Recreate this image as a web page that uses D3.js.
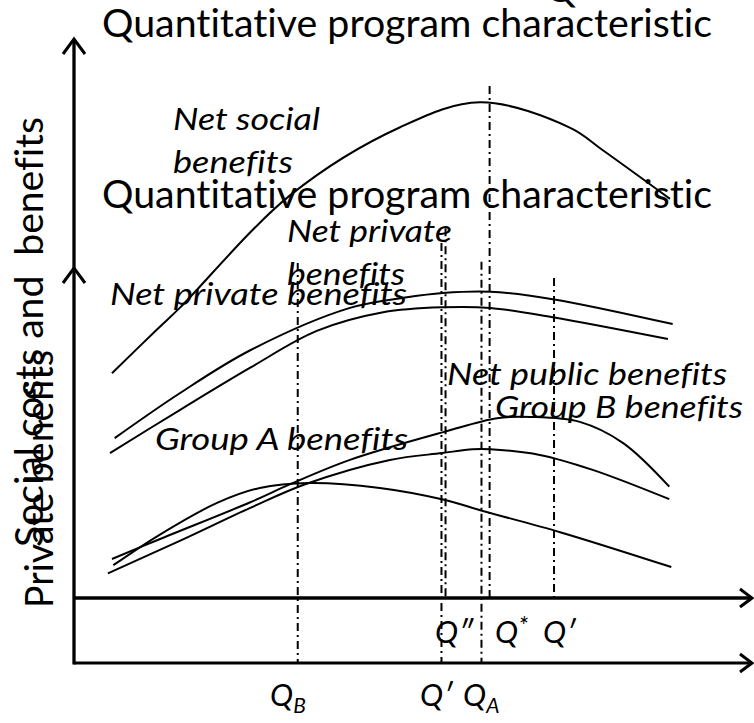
<!DOCTYPE html>
<html>
<head>
<meta charset="utf-8">
<script src="https://cdn.jsdelivr.net/npm/d3@7"></script>
<style>
  body { margin: 0; background: #fff; }
  text { font-family: Lato, "Open Sans", sans-serif; fill: #000; font-variant-ligatures: none; }
</style>
</head>
<body>
<div id="chart"></div>
<script>
// Quantity axis (q) and benefit axis (v), both on a 0-10 scale
var netSocialQ = [0.56, 1.22, 1.56, 3.19, 4.81, 5.99, 7.32, 7.80, 8.79];
var netSocialV = [4.65, 5.35, 5.70, 7.51, 8.60, 9.00, 8.59, 8.23, 7.45];

var netPrivateTopQ = [0.60, 1.56, 2.60, 4.07, 4.91, 5.44, 6.14, 7.06, 8.83];
var netPrivateTopV = [3.61, 4.33, 5.02, 5.70, 5.87, 5.94, 5.96, 5.84, 5.44];

var netPrivateLowQ = [0.53, 1.56, 2.60, 3.58, 4.56, 5.44, 6.14, 7.06, 8.76];
var netPrivateLowV = [3.37, 4.06, 4.74, 5.33, 5.63, 5.71, 5.70, 5.55, 5.20];

var groupAQ = [0.58, 1.25, 2.11, 2.74, 3.47, 4.51, 5.46, 6.03, 7.17, 8.81];
var groupAV = [1.57, 2.05, 2.57, 2.81, 2.89, 2.81, 2.62, 2.44, 2.10, 1.54];

var groupBQ = [0.56, 1.27, 2.60, 3.19, 4.07, 5.46, 6.24, 6.74, 7.46, 8.10, 8.78];
var groupBV = [1.67, 1.99, 2.58, 2.87, 3.26, 3.71, 3.93, 3.95, 3.87, 3.53, 2.83];

var netPublicQ = [0.50, 1.56, 2.60, 3.41, 4.66, 5.43, 5.88, 6.14, 6.87, 7.65, 8.78];
var netPublicV = [1.44, 1.96, 2.49, 2.87, 3.26, 3.37, 3.43, 3.43, 3.34, 3.10, 2.63];

// dash-dot reference quantities
var markerNames = ["QB", "Q' outer", "QA", "Q''", "Q*", "Q' inner"];
var markerQ = [3.30, 5.42, 6.01, 5.48, 6.13, 7.08];
var markerTop = [6.42, 6.74, 6.44, 6.98, 9.26, 6.18];
var markerAxis = ["outer", "outer", "outer", "inner", "inner", "inner"];

var titleText = "Quantitative program characteristic";
var outerYLabel = "Social costs and  benefits";
var innerYLabel = "Private benefits";

var svgWidth = 754;
var svgHeight = 723;

var svg = d3.select("#chart")
  .append("svg")
  .attr("width", svgWidth)
  .attr("height", svgHeight)
  .style("display", "block");

svg.append("rect")
  .attr("width", svgWidth)
  .attr("height", svgHeight)
  .attr("fill", "#fff");

// scales
var xScale = d3.scaleLinear().domain([0, 10]).range([74, 752]);
var yScale = d3.scaleLinear().domain([0, 10]).range([663, 40]);

var axisX = 74;
var outerBase = 663;
var innerBase = 598;

function zipSeries(qs, vs) {
  return qs.map(function(q, i) { return { q: q, v: vs[i] }; });
}

var curves = [
  zipSeries(netSocialQ, netSocialV),
  zipSeries(netPrivateTopQ, netPrivateTopV),
  zipSeries(netPrivateLowQ, netPrivateLowV),
  zipSeries(groupAQ, groupAV),
  zipSeries(groupBQ, groupBV),
  zipSeries(netPublicQ, netPublicV)
];

var line = d3.line()
  .x(d => xScale(d.q))
  .y(d => yScale(d.v))
  .curve(d3.curveCatmullRom);

// dash-dot verticals
var markers = markerNames.map(function(n, i) {
  return { name: n, q: markerQ[i], top: markerTop[i], axis: markerAxis[i] };
});

svg.append("g").selectAll("line")
  .data(markers)
  .enter()
  .append("line")
  .attr("x1", d => xScale(d.q))
  .attr("x2", d => xScale(d.q))
  .attr("y1", d => yScale(d.top))
  .attr("y2", d => d.axis == "outer" ? outerBase : innerBase)
  .attr("stroke", "#000")
  .attr("stroke-width", 2)
  .attr("stroke-dasharray", "8,4,2,4");

// curves
svg.append("g").selectAll("path")
  .data(curves)
  .enter()
  .append("path")
  .attr("d", line)
  .attr("fill", "none")
  .attr("stroke", "#000")
  .attr("stroke-width", 2);

// axes: two y axes on top of each other, two x axes
function arrowUp(tipY) {
  svg.append("polyline")
    .attr("points", `${axisX - 11},${tipY + 15} ${axisX},${tipY} ${axisX + 11},${tipY + 15}`)
    .attr("fill", "none").attr("stroke", "#000").attr("stroke-width", 3);
}
function arrowRight(y) {
  svg.append("polyline")
    .attr("points", `740,${y - 9} 752,${y} 740,${y + 9}`)
    .attr("fill", "none").attr("stroke", "#000").attr("stroke-width", 3);
}

svg.append("line")
  .attr("x1", axisX).attr("x2", axisX)
  .attr("y1", 40).attr("y2", outerBase + 1.5)
  .attr("stroke", "#000").attr("stroke-width", 3.3);
arrowUp(39);
arrowUp(268);

svg.append("line")
  .attr("x1", axisX).attr("x2", 751)
  .attr("y1", innerBase).attr("y2", innerBase)
  .attr("stroke", "#000").attr("stroke-width", 3.5);
arrowRight(innerBase);

svg.append("line")
  .attr("x1", axisX).attr("x2", 751)
  .attr("y1", outerBase).attr("y2", outerBase)
  .attr("stroke", "#000").attr("stroke-width", 2.8);
arrowRight(outerBase);

// titles (the top one is cut by the page edge, like the slide)
svg.append("text")
  .attr("x", 545).attr("y", 1.5)
  .attr("font-size", 39)
  .text("Q");

[37, 208].forEach(function(by) {
  svg.append("text")
    .attr("x", 102).attr("y", by)
    .attr("font-size", 39)
    .attr("textLength", 610)
    .attr("lengthAdjust", "spacingAndGlyphs")
    .text(titleText);
});

// y labels
svg.append("text")
  .attr("transform", "translate(43,547) rotate(-90)")
  .attr("font-size", 39)
  .attr("textLength", 430)
  .attr("lengthAdjust", "spacingAndGlyphs")
  .style("white-space", "pre")
  .text(outerYLabel);

svg.append("text")
  .attr("transform", "translate(53,608) rotate(-90)")
  .attr("font-size", 39)
  .attr("textLength", 258)
  .attr("lengthAdjust", "spacingAndGlyphs")
  .text(innerYLabel);

// italic curve labels
var italics = [
  ["Net social", 173, 130, 147],
  ["benefits", 173, 173, 120],
  ["Net private", 287, 242, 165],
  ["benefits", 287, 285, 118],
  ["Net private benefits", 110, 305, 297],
  ["Net public benefits", 447, 385, 280],
  ["Group B benefits", 495, 418, 248],
  ["Group A benefits", 155, 450, 253]
];
svg.append("g").selectAll("text")
  .data(italics)
  .enter()
  .append("text")
  .attr("x", d => d[1])
  .attr("y", d => d[2])
  .attr("textLength", d => d[3])
  .attr("lengthAdjust", "spacingAndGlyphs")
  .attr("font-size", 30)
  .attr("font-style", "italic")
  .text(d => d[0]);

// Q labels
function qLabel(x, y, extra, kind) {
  var t = svg.append("text")
    .attr("x", x).attr("y", y)
    .attr("font-size", 31)
    .attr("font-style", "italic")
    .text("Q");
  if (kind == "sub") {
    t.append("tspan").attr("font-size", 21).attr("dy", 7).text(extra);
  } else if (kind == "sup") {
    t.append("tspan").attr("font-size", 25).attr("dy", -8).text(extra);
  } else {
    t.append("tspan").text(extra);
  }
}
qLabel(435, 643, "\u2033", "");
qLabel(495, 643, "*", "sup");
qLabel(543, 643, "\u2032", "");
qLabel(270, 706, "B", "sub");
qLabel(420, 706, "\u2032", "");
qLabel(463, 706, "A", "sub");
</script>
</body>
</html>
